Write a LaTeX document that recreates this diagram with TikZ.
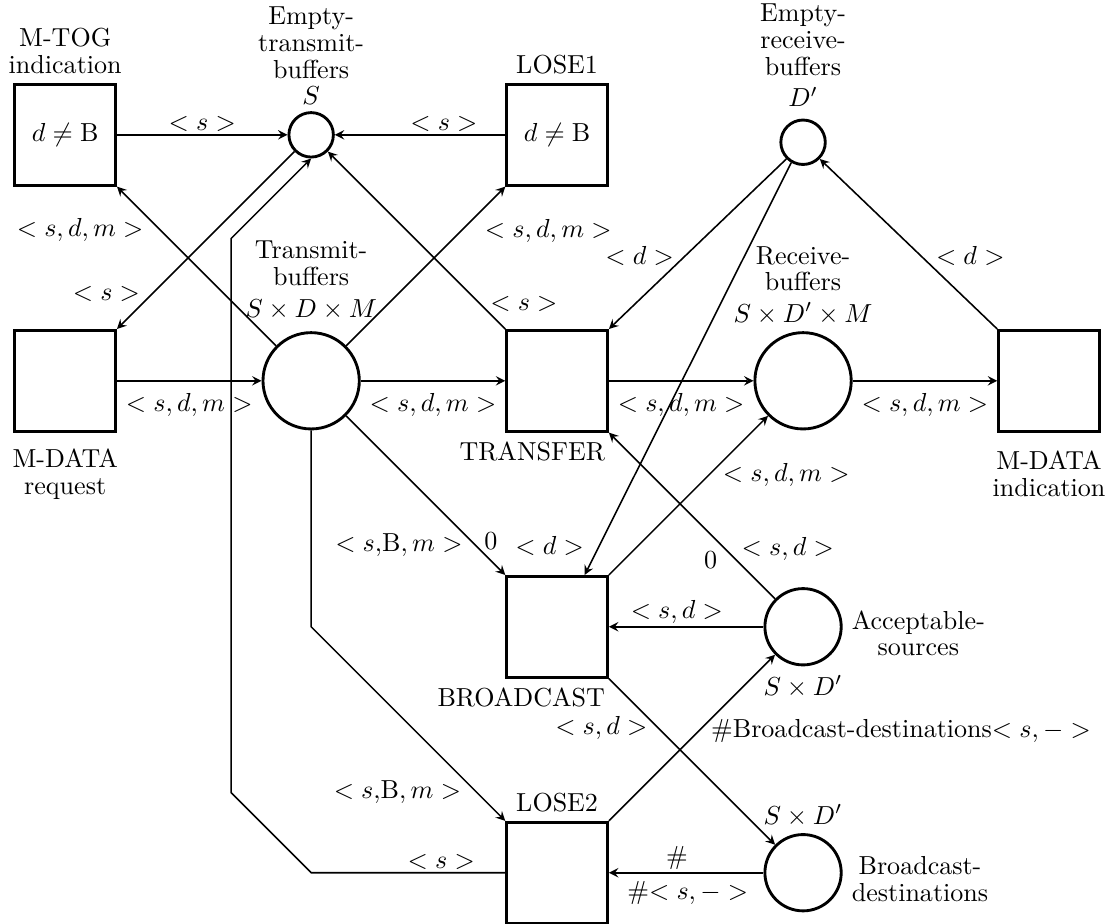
\documentclass[tikz,border=0pt]{standalone}
\usepackage{amsmath}
\usepackage{amssymb}
\usepackage{tikz}
\usetikzlibrary{positioning, calc, shapes, arrows}

\begin{document}
\begin{tikzpicture}[>=stealth, node distance=3.32cm, on grid, auto,
		place/.style={circle, draw, line width=1.1pt, inner sep=0pt},
		transition/.style={rectangle, draw, line width=1.1pt, minimum size=1.36cm, inner sep=0pt},
		every label/.style={align=center, font=\fontsize{10}{10.2}\selectfont},
		lbl/.style={inner sep=1pt},
		arc/.style={->, line width=0.6pt}
	]
	\path[use as bounding box, fill=white] (-7.52,5.14) rectangle (7.49,-7.32);

	%Lugares e transicoes (grade de 3.32cm, TRANSFER na origem)
	\node[transition, label={[anchor=north east, xshift=2pt]south east:TRANSFER}]	(tf)			{};
	\node[place, minimum size=1.3cm, label={[label distance=1pt]above:Transmit-\\buffers\\[2pt]$S\times D\times M$}]	(tb) [left of=tf]	{};
	\node[transition, label={[label distance=2.7pt]below:M-DATA\\request}]	(req) [left of=tb]	{};
	\node[place, minimum size=1.3cm, label={[label distance=-1pt]above:Receive-\\buffers\\[2pt]$S\times D'\times M$}]	(rb) [right of=tf]	{};
	\node[transition, label={[label distance=3.5pt]below:M-DATA\\indication}]	(ind) [right of=rb]	{};

	\node[place, minimum size=0.6cm, label={[label distance=-1pt]above:Empty-\\transmit-\\buffers\\$S$}]	(etb) [above of=tb]	{};
	\node[transition, label={above:M-TOG\\indication}]	(tog) [above of=req]	{$d\neq\mathrm{B}$};
	\node[transition, label={above:LOSE1}]	(lose1) [above of=tf]	{$d\neq\mathrm{B}$};
	\node[place, minimum size=0.6cm, yshift=-1mm, label={[label distance=1pt]above:Empty-\\receive-\\buffers\\[2pt]$D'$}]	(erb) [above of=rb]	{};

	\node[transition, label={[anchor=north east, xshift=2pt]south east:BROADCAST}]	(bc) [below of=tf]	{};
	\node[place, minimum size=1.03cm, label={[yshift=-2.5pt]right:Acceptable-\\sources}, label={below:$S\times D'$}]	(acc) [below of=rb]	{};
	\node[transition, label={above:LOSE2}]	(lose2) [below of=bc]	{};
	\node[place, minimum size=1.03cm, label={[yshift=-2.5pt]right:Broadcast-\\destinations}, label={[label distance=-1pt]above:$S\times D'$}]	(bd) [below of=acc]	{};

	%Arcos: (origem) edge node {inscricao} (destino)
	\path[arc]
	(tog) edge node[lbl, above] {$<s>$} (etb)
	(lose1) edge node[lbl, pos=0.36, above] {$<s>$} (etb)
	(tb.north west) edge node[lbl, pos=0.73, left=5pt] {$<s,d,m>$} (tog.south east)
	(etb.south west) edge node[lbl, pos=0.8, left=3.5pt] {$<s>$} (req.north east)
	(tb.north east) edge node[lbl, pos=0.72, right=8pt] {$<s,d,m>$} (lose1.south west)
	(tf.north west) edge node[lbl, pos=0.14, right=2.5pt] {$<s>$} (etb.south east)
	(erb.south west) edge node[lbl, pos=0.57, left=3pt] {$<d>$} (tf.north east)
	(ind.north west) edge node[lbl, pos=0.43, right=4.5pt] {$<d>$} (erb.south east)

	(req) edge node[lbl, below=3.5pt] {$<s,d,m>$} (tb)
	(tb) edge node[lbl, below=3.5pt] {$<s,d,m>$} (tf)
	(tf) edge node[lbl, below=3.5pt] {$<s,d,m>$} (rb)
	(rb) edge node[lbl, below=3.5pt] {$<s,d,m>$} (ind)

	(tb.south east) edge node[lbl, pos=0.81, left=3.5pt] {$<s,\!\mathrm{B},m>$} node[lbl, pos=0.79, right=3.5pt] {$0$} (bc.north west)
	(erb.240) edge node[lbl, pos=0.93, left=4.5pt] {$<d>$} (bc.62)
	(bc.north east) edge node[lbl, pos=0.63, right=4pt] {$<s,d,m>$} (rb.south west)
	(acc.north west) edge node[lbl, pos=0.3, right=5pt] {$<s,d>$} node[lbl, pos=0.235, left=6pt] {$0$} (tf.south east)
	(acc) edge node[lbl, pos=0.56, above] {$<s,d>$} (bc)
	(bc.south east) edge node[lbl, pos=0.3, left=3pt] {$<s,d>$} (bd.north west)
	(lose2.north east) edge node[lbl, pos=0.54, right=3.5pt] {\#Broadcast-destinations$<s,->$} (acc.south west)
	(bd) edge node[lbl, pos=0.56, above] {\#} node[lbl, pos=0.49, below=2pt] {\#$<s,->$} (lose2);

	%Arcos com dobras
	\draw[arc] (tb.south) -- (tb |- bc) -- node[lbl, pos=0.85, left=4.5pt] {$<s,\!\mathrm{B},m>$} (lose2.north west);
	\draw[arc] (lose2.west) -- node[lbl, pos=0.33, above] {$<s>$} (lose2.west -| tb) -- ++(-1.08,1.08)
		-- ($(etb.south)+(-1.08,-1.08)$) -- (etb.south);
\end{tikzpicture}
\end{document}
